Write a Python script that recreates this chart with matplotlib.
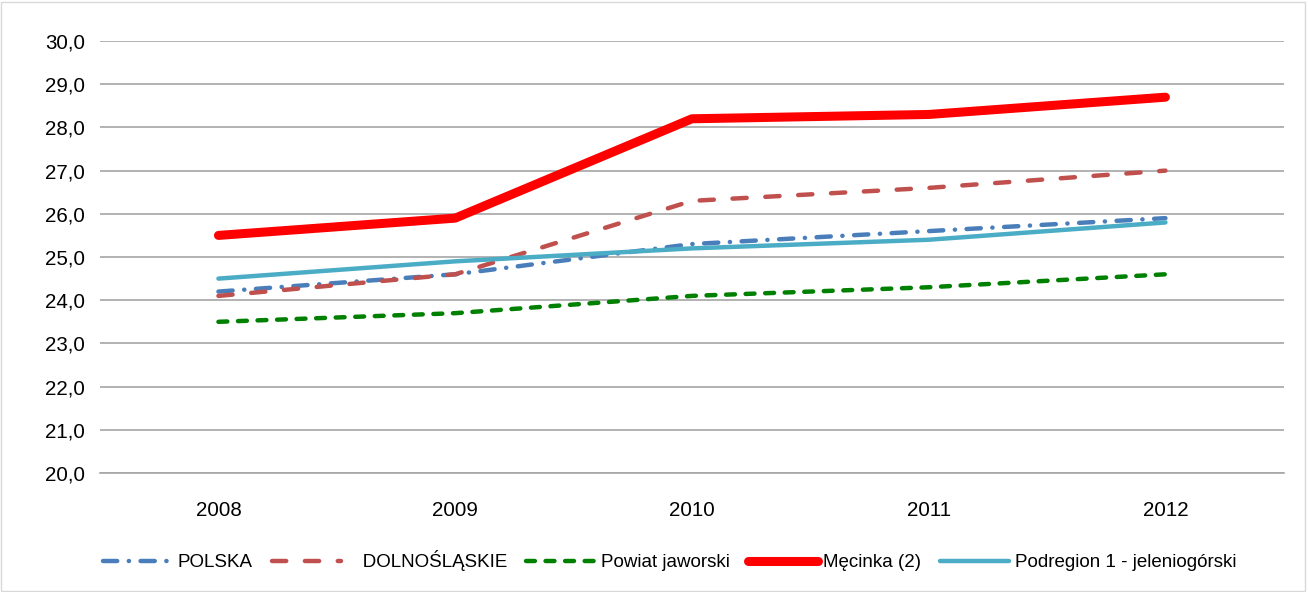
import matplotlib.pyplot as plt

years = ['2008', '2009', '2010', '2011', '2012']
polska = [24.2, 24.6, 25.3, 25.6, 25.9]
dolnoslaskie = [24.1, 24.6, 26.3, 26.6, 27.0]
powiat = [23.5, 23.7, 24.1, 24.3, 24.6]
mecinka = [25.5, 25.9, 28.2, 28.3, 28.7]
podregion = [24.5, 24.9, 25.2, 25.4, 25.8]

plt.rcParams['font.family'] = ['Liberation Sans', 'DejaVu Sans']

fig = plt.figure(figsize=(13.08, 5.92), dpi=100)
ax = fig.add_axes([0.0765, 0.201, 0.905, 0.7297])

x = range(len(years))
ax.plot(x, polska, color='#4a7ebb', lw=3.2, dashes=(3.2, 2.6, 0.05, 2.6),
        solid_capstyle='round', dash_capstyle='round', label='POLSKA')
ax.plot(x, dolnoslaskie, color='#c0504d', lw=3.2, dashes=(3.2, 4.2),
        dash_capstyle='round', label='   DOLNOŚLĄSKIE')
ax.plot(x, powiat, color='#008000', lw=3.2, dashes=(2.0, 2.4),
        dash_capstyle='round', label='Powiat jaworski')
ax.plot(x, mecinka, color='#ff0000', lw=6.5, solid_capstyle='round',
        solid_joinstyle='round', label='Męcinka (2)')
ax.plot(x, podregion, color='#4bacc6', lw=3.2, solid_capstyle='round',
        label='Podregion 1 - jeleniogórski')

ax.set_xlim(-0.5, 4.5)
ax.set_ylim(20, 30)
ax.set_yticks([20 + i for i in range(11)])
ax.set_yticklabels(['{:.1f}'.format(20 + i).replace('.', ',') for i in range(11)])
ax.set_xticks(list(x))
ax.set_xticklabels(years)
ax.tick_params(axis='both', length=0, labelsize=14.8, colors='#000000')
ax.tick_params(axis='x', pad=20)
ax.tick_params(axis='y', pad=11)
ax.grid(axis='y', color='#a6a6a6', lw=1.2)
ax.set_axisbelow(True)
for s in ['top', 'right', 'left']:
    ax.spines[s].set_visible(False)
ax.spines['bottom'].set_color('#a6a6a6')
ax.spines['bottom'].set_linewidth(1.2)

fig.legend(loc='center', bbox_to_anchor=(0.512, 0.053), ncol=5, frameon=False,
           fontsize=13.5, handlelength=3.7, handletextpad=0.3, columnspacing=1.0)

fig.patches.append(plt.Rectangle((0.001, 0.002), 0.997, 0.995, transform=fig.transFigure,
                                 fill=False, edgecolor='#d9d9d9', lw=1))

plt.savefig('out.png', dpi=100)
